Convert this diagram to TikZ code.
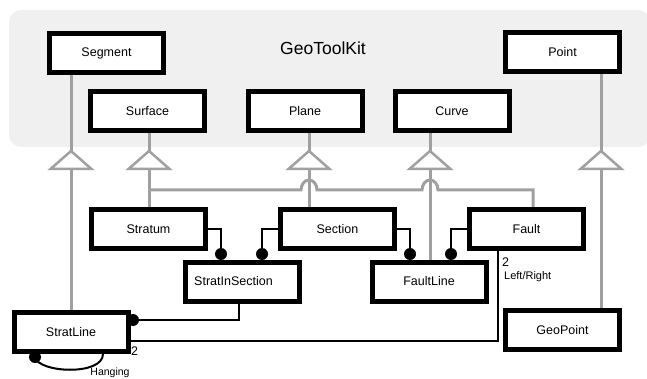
\documentclass[tikz,border=0pt]{standalone}
\usepackage{fontspec}
\setmainfont{Liberation Sans}
\definecolor{lgray}{RGB}{160,160,160}
\definecolor{pkgbg}{RGB}{240,240,240}
\pgfdeclarelayer{bg}
\pgfdeclarelayer{lines}
\pgfsetlayers{bg,lines,main}
\tikzset{
  cls/.style={draw=black, line width=5pt, fill=white, minimum width=114pt,
    minimum height=39pt, inner sep=0pt,
    font=\fontsize{12.5}{15}\selectfont},
  gen/.style={draw=lgray, line width=3pt},
  gentri/.style={draw=lgray, line width=2.5pt, fill=white, line join=miter},
  assoc/.style={draw=black, line width=2pt},
  lbl/.style={inner sep=0pt, font=\fontsize{11}{13}\selectfont},
  mult/.style={inner sep=0pt, font=\fontsize{12.5}{15}\selectfont}
}
\begin{document}
\begin{tikzpicture}[x=1pt,y=-1pt]
\useasboundingbox (0,0) rectangle (647,379);

% package frame
\begin{pgfonlayer}{bg}
  \fill[pkgbg, rounded corners=12pt] (9,10) rectangle (650,147);
\end{pgfonlayer}
\node[inner sep=0pt, font=\fontsize{17.5}{20}\selectfont] (pkg) at (323,48) {GeoToolKit};

% classes
\node[cls] (Segment)  at (106.5,53.5) {Segment};
\node[cls] (Point)    at (562.5,52.5) {Point};
\node[cls] (Surface)  at (147.5,111.5) {Surface};
\node[cls] (Plane)    at (305,111.5)   {Plane};
\node[cls] (Curve)    at (452,111.5)   {Curve};
\node[cls] (Stratum)  at (148.5,229)   {Stratum};
\node[cls] (Section)  at (337.5,229)   {Section};
\node[cls] (Fault)    at (526.5,229)   {Fault};
\node[cls] (StratInSection) at (242.5,281.5) {\hspace*{-18pt}StratInSection};
\node[cls] (FaultLine) at (429,281.5)  {FaultLine};
\node[cls] (StratLine) at (71,332)     {StratLine};
\node[cls] (GeoPoint)  at (562.5,330)  {GeoPoint};

\begin{pgfonlayer}{lines}
% generalization triangles: apex and base centre
\foreach \n/\x in {Seg/71, Surf/149, Pla/309, Cur/430, Pnt/601} {
  \coordinate (\n a) at (\x,151);
  \coordinate (\n b) at (\x,169);
}
\draw[gen] (Sega |- Segment.south) -- (Sega);
\draw[gen] (Surfa |- Surface.south) -- (Surfa);
\draw[gen] (Plaa |- Plane.south) -- (Plaa);
\draw[gen] (Cura |- Curve.south) -- (Cura);
\draw[gen] (Pnta |- Point.south) -- (Pnta);
\foreach \n in {Seg, Surf, Pla, Cur, Pnt} {
  \draw[gentri] (\n a) -- ([xshift=-20.5pt]\n b) -- ([xshift=20.5pt]\n b) -- cycle;
}

% subclass links
\draw[gen] (Segb) -- (Segb |- StratLine.north);
\draw[gen] (Surfb) -- (Surfb |- Stratum.north);
\draw[gen] (Plab) -- (Plab |- Section.north);
\draw[gen] (Curb) -- (Curb |- FaultLine.north);
\draw[gen] (Pntb) -- (Pntb |- GeoPoint.north);
\coordinate (j1) at (149,190);
\coordinate (j2) at (533,190);
\draw[gen] (j1) -- (301,190) arc[start angle=180, end angle=0, x radius=8pt, y radius=10pt]
  -- (422,190) arc[start angle=180, end angle=0, x radius=8pt, y radius=10pt]
  -- (j2) -- (j2 |- Fault.north);

% associations
\coordinate (d1) at (221,254);
\coordinate (d2) at (262,254);
\coordinate (d3) at (410,254);
\coordinate (d4) at (451,254);
\coordinate (d5) at (133,320);
\coordinate (d6) at (35,357);
\draw[assoc] (Stratum.east) -| (d1);
\draw[assoc] (Section.west) -| (d2);
\draw[assoc] (Section.east) -| (d3);
\draw[assoc] (Fault.west) -| (d4);
\draw[assoc] ([xshift=-3.5pt]StratInSection.south) |- (d5);
\draw[assoc] (StratLine.east |- 0,341) -| ([xshift=-28.5pt]Fault.south);
\draw[assoc] (d6) .. controls (38,373) and (103,376) .. ([xshift=32pt]StratLine.south);
\foreach \d in {d1,d2,d3,d4,d5,d6} \fill (\d) circle (6pt);
\end{pgfonlayer}

% role labels
\node[mult] (m1) at (134.5,351) {2};
\node[lbl, font=\fontsize{10.5}{12}\selectfont] (r1) at (110,373) {Hanging};
\node[mult] (m2) at (505.5,262) {2};
\node[lbl, anchor=west] (r2) at (504,277) {Left/Right};
\end{tikzpicture}
\end{document}
